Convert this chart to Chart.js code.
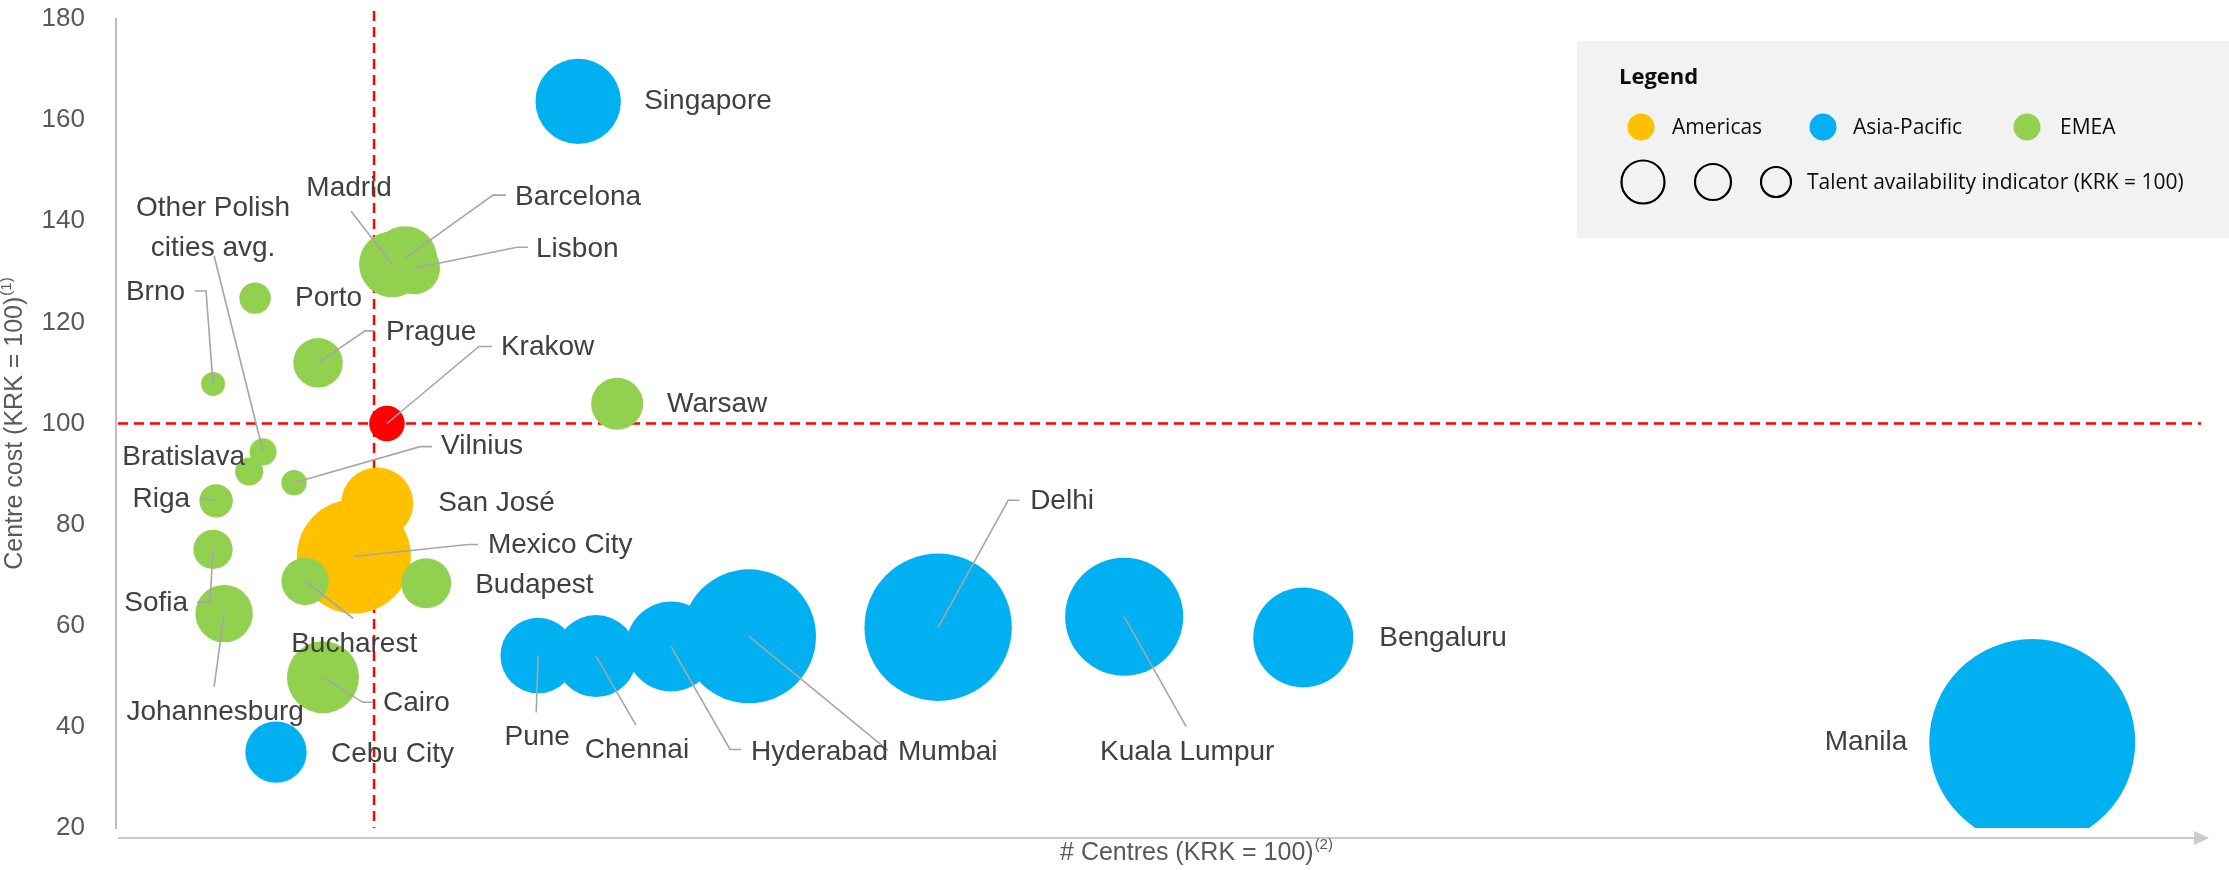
<!DOCTYPE html>
<html>
<head>
<meta charset="utf-8">
<title>Centre cost vs # centres</title>
<script src="https://cdn.jsdelivr.net/npm/chart.js@4.4.1/dist/chart.umd.min.js"></script>
<style>
  html, body { margin: 0; padding: 0; background: #ffffff; }
  #wrap { width: 2229px; height: 870px; }
</style>
</head>
<body>
<div id="wrap"><canvas id="myChart" width="2229" height="870"></canvas></div>
<script>
// data (KRK = 100 on both axes)
const cities = ['Krakow', 'Madrid', 'Barcelona', 'Lisbon', 'Porto', 'Prague', 'Brno',
  'Other Polish cities avg.', 'Bratislava', 'Vilnius', 'Riga', 'Sofia', 'Johannesburg',
  'Bucharest', 'Budapest', 'Cairo', 'Warsaw', 'Mexico City', 'San José', 'Singapore',
  'Cebu City', 'Pune', 'Chennai', 'Hyderabad', 'Mumbai', 'Delhi', 'Kuala Lumpur',
  'Bengaluru', 'Manila'];
const regions = ['EMEA', 'EMEA', 'EMEA', 'EMEA', 'EMEA', 'EMEA', 'EMEA',
  'EMEA', 'EMEA', 'EMEA', 'EMEA', 'EMEA', 'EMEA',
  'EMEA', 'EMEA', 'EMEA', 'EMEA', 'Americas', 'Americas', 'Asia-Pacific',
  'Asia-Pacific', 'Asia-Pacific', 'Asia-Pacific', 'Asia-Pacific', 'Asia-Pacific', 'Asia-Pacific', 'Asia-Pacific',
  'Asia-Pacific', 'Asia-Pacific'];
// # centres (x)
const centres = [105, 107, 112, 115.5, 53.9, 78.3, 37.6,
  57, 51.6, 69, 38.8, 37.6, 41.9,
  73.3, 120.2, 80.2, 194.2, 92.2, 101.2, 179.1,
  62, 163.6, 186, 215.1, 245.3, 318.6, 390.7,
  460.1, 742.6];
// centre cost (y)
const costs = [100, 131.5, 132.7, 130.7, 124.8, 112, 107.8,
  94.4, 90.5, 88.3, 84.7, 75.1, 62.4,
  68.8, 68.4, 49.8, 103.9, 73.7, 84.2, 163.7,
  35, 54.1, 54, 55.9, 57.9, 59.7, 61.8,
  57.7, 37];
// talent availability indicator (bubble size)
const talent = [100, 344, 323, 213, 78, 193, 45,
  58, 62, 51, 88, 122, 260,
  177, 197, 409, 213, 1025, 409, 575,
  297, 449, 531, 639, 1417, 1714, 1099,
  789, 3348];

const yTicks = [20, 40, 60, 80, 100, 120, 140, 160, 180];
const xRange = [0, 808];
const refValue = 100;  // KRK reference on both axes
const highlight = 'Krakow';

const regionNames = ['Americas', 'Asia-Pacific', 'EMEA'];
const regionColors = { 'Americas': '#FFC000', 'Asia-Pacific': '#00B0F0', 'EMEA': '#92D050' };
const highlightColor = '#FF0000';

// bubble radius in px for KRK (talent = 100), area proportional to talent
const baseRadius = 17.8;
function radiusFor(t) {
  return baseRadius * Math.sqrt(t / 100);
}

// label placement (px offsets from bubble centre), leader lines as offsets too
const labelLayout = {
  'Singapore': { dx: 66, dy: 0 },
  'Warsaw': { dx: 50, dy: 1 },
  'Barcelona': { dx: 110, dy: -61, leader: [[0, 0], [88, -63], [101, -63]] },
  'Lisbon': { dx: 122, dy: -19, leader: [[0, 0], [103, -21], [114, -21]] },
  'Madrid': { dx: -43, dy: -76, align: 'center', leader: [[0, 0], [-41, -53]] },
  'Other Polish cities avg.': { dx: -50, dy: -244, align: 'center', lines: ['Other Polish', 'cities avg.'], leader: [[0, 0], [-49, -196]] },
  'Brno': { dx: -28, dy: -92, align: 'right', leader: [[0, 0], [-7, -93], [-18, -93]] },
  'Porto': { dx: 40, dy: 0 },
  'Prague': { dx: 68, dy: -31, leader: [[0, 0], [47, -32], [57, -32]] },
  'Krakow': { dx: 114, dy: -76, leader: [[0, 0], [92, -77], [105, -77]] },
  'Bratislava': { dx: -4, dy: -14, align: 'right' },
  'Vilnius': { dx: 147, dy: -36, leader: [[0, 0], [126, -36], [138, -36]] },
  'Riga': { dx: -26, dy: -2, align: 'right', leader: [[-1, -1], [-16, -2]] },
  'Sofia': { dx: -25, dy: 54, align: 'right', leader: [[0, 0], [-3, 53], [-16, 53]] },
  'Johannesburg': { dx: -9, dy: 99, align: 'center', leader: [[0, 0], [-10, 73]] },
  'Bucharest': { dx: -14, dy: 63, leader: [[0, 0], [48, 37]] },
  'Mexico City': { dx: 134, dy: -11, leader: [[0, 0], [114, -12], [124, -12]] },
  'San José': { dx: 61, dy: 0 },
  'Budapest': { dx: 49, dy: 2 },
  'Cairo': { dx: 60, dy: 26, leader: [[0, 0], [40, 25], [50, 25]] },
  'Cebu City': { dx: 55, dy: 2 },
  'Pune': { dx: -1, dy: 82, align: 'center', leader: [[0, 0], [-2, 57]] },
  'Chennai': { dx: 41, dy: 94, align: 'center', leader: [[0, 0], [40, 69]] },
  'Hyderabad': { dx: 80, dy: 106, leader: [[0, 0], [59, 103], [70, 103]] },
  'Mumbai': { dx: 149, dy: 116, leader: [[0, 0], [139, 114]] },
  'Delhi': { dx: 92, dy: -126, leader: [[0, 0], [70, -127], [81, -127]] },
  'Kuala Lumpur': { dx: 63, dy: 136, align: 'center', leader: [[0, 0], [62, 110]] },
  'Bengaluru': { dx: 76, dy: 1 },
  'Manila': { dx: -125, dy: 0, align: 'right' }
};

// build one dataset per group
function buildDataset(label, names, color) {
  const idx = cities.map((c, i) => i).filter(i => names.includes(cities[i]));
  return {
    label: label,
    cities: idx.map(i => cities[i]),
    data: idx.map(i => ({ x: centres[i], y: costs[i], r: radiusFor(talent[i]) })),
    backgroundColor: color,
    borderWidth: 0,
    hoverRadius: 0,
    clip: 0
  };
}

const datasets = [];
// dataset 0 is drawn on top
datasets.push(buildDataset(highlight, [highlight], highlightColor));
['EMEA', 'Americas', 'Asia-Pacific'].forEach(function (reg) {
  const names = cities.filter((c, i) => regions[i] === reg && c !== highlight);
  datasets.push(buildDataset(reg, names, regionColors[reg]));
});

const labelFont = '28px "Liberation Sans", Arial, sans-serif';
const axisFont = '25px "Liberation Sans", Arial, sans-serif';
const supFont = '15px "Liberation Sans", Arial, sans-serif';
const legendFont = '21px "Open Sans", sans-serif';

function textWithSup(ctx, main, sup, cx, cy) {
  ctx.font = axisFont;
  const w1 = ctx.measureText(main).width;
  ctx.font = supFont;
  const w2 = ctx.measureText(sup).width;
  const x0 = cx - (w1 + w2) / 2;
  ctx.textAlign = 'left';
  ctx.textBaseline = 'middle';
  ctx.font = axisFont;
  ctx.fillText(main, x0, cy);
  ctx.font = supFont;
  ctx.fillText(sup, x0 + w1 + 1, cy - 8);
}

const overlay = {
  id: 'overlay',
  beforeDatasetsDraw(chart) {
    const ctx = chart.ctx;
    const a = chart.chartArea;
    const xs = chart.scales.x, ys = chart.scales.y;
    ctx.save();
    ctx.strokeStyle = '#FF0000';
    ctx.lineWidth = 2.5;
    ctx.setLineDash([10, 6]);
    const px = xs.getPixelForValue(refValue);
    const py = ys.getPixelForValue(refValue);
    ctx.beginPath();
    ctx.moveTo(px, a.top - 8);
    ctx.lineTo(px, a.bottom);
    ctx.moveTo(a.left + 2, py);
    ctx.lineTo(a.right, py);
    ctx.stroke();
    ctx.restore();
  },
  afterDatasetsDraw(chart) {
    const ctx = chart.ctx;
    // centre pixel for every city
    const pos = {};
    chart.data.datasets.forEach(function (ds, d) {
      const meta = chart.getDatasetMeta(d);
      ds.cities.forEach(function (c, i) {
        pos[c] = { x: meta.data[i].x, y: meta.data[i].y };
      });
    });
    ctx.save();
    // leader lines
    ctx.strokeStyle = '#A6A6A6';
    ctx.lineWidth = 1.6;
    Object.keys(labelLayout).forEach(function (c) {
      const l = labelLayout[c];
      if (!l.leader || !pos[c]) return;
      ctx.beginPath();
      l.leader.forEach(function (p, k) {
        const x = pos[c].x + p[0], y = pos[c].y + p[1];
        if (k === 0) ctx.moveTo(x, y); else ctx.lineTo(x, y);
      });
      ctx.stroke();
    });
    // labels
    ctx.fillStyle = '#404040';
    ctx.font = labelFont;
    ctx.textBaseline = 'middle';
    Object.keys(labelLayout).forEach(function (c) {
      const l = labelLayout[c];
      if (!pos[c]) return;
      ctx.textAlign = l.align || 'left';
      const lines = l.lines || [c];
      lines.forEach(function (t, k) {
        ctx.fillText(t, pos[c].x + l.dx, pos[c].y + l.dy + k * 40);
      });
    });
    ctx.restore();
  },
  afterDraw(chart) {
    const ctx = chart.ctx;
    const a = chart.chartArea;
    ctx.save();
    // x axis arrow
    ctx.strokeStyle = '#CBCBCB';
    ctx.fillStyle = '#CBCBCB';
    ctx.lineWidth = 2;
    ctx.beginPath();
    ctx.moveTo(a.left + 2, a.bottom + 10);
    ctx.lineTo(a.right - 6, a.bottom + 10);
    ctx.stroke();
    ctx.beginPath();
    ctx.moveTo(a.right - 7, a.bottom + 3);
    ctx.lineTo(a.right + 8, a.bottom + 10);
    ctx.lineTo(a.right - 7, a.bottom + 17);
    ctx.closePath();
    ctx.fill();

    // axis titles
    ctx.fillStyle = '#595959';
    textWithSup(ctx, '# Centres (KRK = 100)', '(2)', 1196, 853);
    ctx.save();
    ctx.translate(15, 424);
    ctx.rotate(-Math.PI / 2);
    textWithSup(ctx, 'Centre cost (KRK = 100)', '(1)', 0, 0);
    ctx.restore();

    // legend box
    ctx.fillStyle = '#F2F2F2';
    ctx.fillRect(1577, 41, 2229 - 1577, 197);
    ctx.fillStyle = '#0D0D0D';
    ctx.textAlign = 'left';
    ctx.textBaseline = 'middle';
    ctx.font = 'bold 22px "Open Sans", sans-serif';
    ctx.fillText('Legend', 1619, 78);
    const dotX = [1641, 1823, 2027];
    const txtX = [1672, 1853, 2060];
    ctx.font = legendFont;
    regionNames.forEach(function (reg, i) {
      ctx.fillStyle = regionColors[reg];
      ctx.beginPath();
      ctx.arc(dotX[i], 127, 13.5, 0, Math.PI * 2);
      ctx.fill();
      ctx.fillStyle = '#0D0D0D';
      ctx.fillText(reg, txtX[i], 128);
    });
    ctx.strokeStyle = '#000000';
    ctx.lineWidth = 2.2;
    [[1643, 21.5], [1713, 18], [1776, 15]].forEach(function (c) {
      ctx.beginPath();
      ctx.arc(c[0], 182, c[1], 0, Math.PI * 2);
      ctx.stroke();
    });
    ctx.fillStyle = '#0D0D0D';
    ctx.fillText('Talent availability indicator (KRK = 100)', 1807, 183);
    ctx.restore();
  }
};

const config = {
  type: 'bubble',
  data: { datasets: datasets },
  options: {
    responsive: false,
    animation: false,
    events: [],
    layout: { autoPadding: false, padding: { left: 0, right: 28, top: 19, bottom: 0 } },
    plugins: {
      legend: { display: false },
      tooltip: { enabled: false }
    },
    scales: {
      x: {
        type: 'linear',
        min: xRange[0],
        max: xRange[1],
        grid: { display: false, drawTicks: false },
        border: { display: false },
        ticks: { display: false },
        afterFit: function (scale) {
          scale.height = 42;
          scale.paddingLeft = 0;
          scale.paddingRight = 0;
        }
      },
      y: {
        type: 'linear',
        min: yTicks[0],
        max: yTicks[yTicks.length - 1],
        grid: { display: false, drawTicks: false },
        border: { display: true, color: '#BFBFBF', width: 2 },
        ticks: {
          stepSize: yTicks[1] - yTicks[0],
          color: '#595959',
          padding: 31,
          font: { family: '"Liberation Sans", Arial, sans-serif', size: 26 }
        },
        afterFit: function (scale) {
          scale.width = 116;
          scale.paddingTop = 0;
          scale.paddingBottom = 0;
        }
      }
    }
  },
  plugins: [overlay]
};

const myChart = new Chart(document.getElementById('myChart'), config);
</script>
</body>
</html>
